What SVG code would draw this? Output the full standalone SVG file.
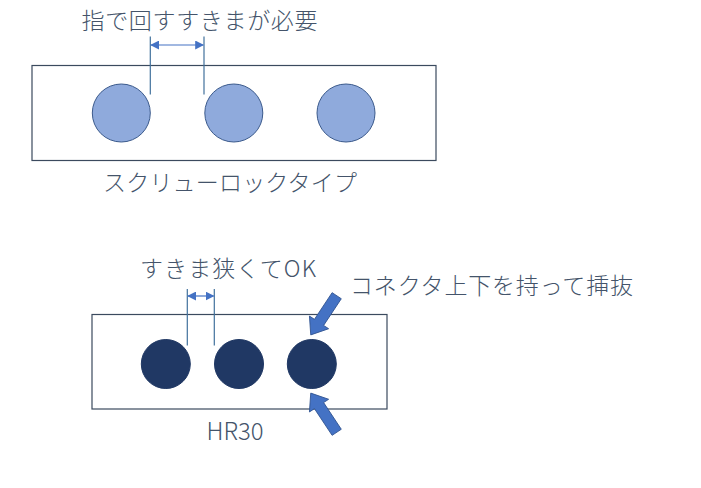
<svg xmlns="http://www.w3.org/2000/svg" width="701" height="488" viewBox="0 0 701 488">
<defs>
<style>
.t{font-family:"Noto Sans CJK JP","Noto Sans",sans-serif;font-size:23px;font-weight:300;fill:#44546A;}
.box{fill:#fff;stroke:#3B4A5E;stroke-width:1.2;}
.pinA{fill:#8FAADC;stroke:#3B5A8C;stroke-width:1;}
.pinB{fill:#203864;stroke:#203864;stroke-width:1;}
.ext{stroke:#41719C;stroke-width:1.2;fill:none;}
.dim{stroke:#4472C4;stroke-width:1.2;fill:none;marker-start:url(#ah);marker-end:url(#ah);}
.barrow{fill:#4472C4;stroke:#2F528F;stroke-width:0.8;}
</style>
<marker id="ah" viewBox="0 0 10 10" refX="9" refY="5" markerWidth="9" markerHeight="9" markerUnits="userSpaceOnUse" orient="auto-start-reverse">
<path d="M0,0 L10,5 L0,10 z" fill="#4472C4"/>
</marker>
<polygon id="blk" points="0,-5.5 32,-5.5 32,-11.5 47,0 32,11.5 32,5.5 0,5.5"/>
</defs>
<rect width="701" height="488" fill="#fff"/>

<g id="screwlock">
<rect class="box" x="32" y="65.5" width="404" height="95"/>
<circle class="pinA" cx="121.3" cy="113" r="29"/>
<circle class="pinA" cx="233.8" cy="113" r="29"/>
<circle class="pinA" cx="346" cy="113" r="29"/>
<text class="t" x="103" y="190.5" textLength="254" lengthAdjust="spacing">スクリューロックタイプ</text>
</g>

<g id="hr30">
<rect class="box" x="92" y="314.5" width="295" height="94.5"/>
<circle class="pinB" cx="165.8" cy="364" r="24.5"/>
<circle class="pinB" cx="239" cy="364" r="24.5"/>
<circle class="pinB" cx="311.8" cy="364" r="24.5"/>
<text class="t" x="206.5" y="440" style="font-size:24px" textLength="57" lengthAdjust="spacingAndGlyphs">HR30</text>
</g>

<g id="label-top">
<text class="t" x="81.5" y="29" textLength="236" lengthAdjust="spacing">指で回すすきまが必要</text>
</g>
<g id="label-narrow">
<text class="t" x="140" y="276.5" textLength="176" lengthAdjust="spacing">すきま狭くてOK</text>
</g>
<g id="label-hold">
<text class="t" x="350" y="294" textLength="283" lengthAdjust="spacing">コネクタ上下を持って挿抜</text>
</g>

<g id="connectors">
<line class="ext" x1="150.3" y1="36.5" x2="150.3" y2="94.5"/>
<line class="ext" x1="204" y1="36.5" x2="204" y2="94.5"/>
<line class="dim" x1="151" y1="45" x2="203.3" y2="45"/>
<line class="ext" x1="187.3" y1="289" x2="187.3" y2="345.5"/>
<line class="ext" x1="214.3" y1="289" x2="214.3" y2="345.5"/>
<line class="dim" x1="188" y1="296" x2="213.6" y2="296"/>
<use href="#blk" class="barrow" transform="translate(336.7,295.7) rotate(123.5)"/>
<use href="#blk" class="barrow" transform="translate(336.7,432.3) rotate(-123.5)"/>
</g>
</svg>
